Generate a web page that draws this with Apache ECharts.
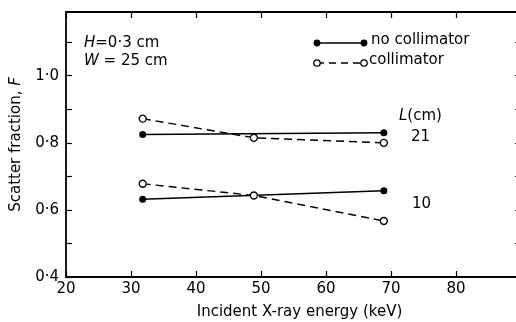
<!DOCTYPE html>
<html>
<head>
<meta charset="utf-8">
<script src="https://cdn.jsdelivr.net/npm/echarts@6/dist/echarts.min.js"></script>
<style>
  html, body { margin: 0; padding: 0; background: #fff; }
  #main { width: 516px; height: 322px; }
</style>
</head>
<body>
<div id="main"></div>
<script>
// energies (keV)
var energy2 = [31.8, 68.9];
var energy3 = [31.8, 48.9, 68.9];
// scatter fraction F
var noColl21 = [0.825, 0.830];
var coll21 = [0.872, 0.815, 0.800];
var noColl10 = [0.632, 0.657];
var coll10 = [0.678, 0.643, 0.567];

var xTicks = [20, 30, 40, 50, 60, 70, 80];
var yLabels = [0.4, 0.6, 0.8, 1.0];

var FONT = 'DejaVu Sans';
var FS = 15;

function pairs(xs, ys) {
    var list = [];
    for (var i = 0; i < xs.length; i++) {
        list.push([xs[i], ys[i]]);
    }
    return list;
}

function fmtY(v) {
    for (var i = 0; i < yLabels.length; i++) {
        if (Math.abs(yLabels[i] - v) < 1e-6) {
            return v.toFixed(1).replace('.', '\u00b7');
        }
    }
    return '';
}

var solidStyle = { color: '#000', width: 1.6, type: 'solid' };
var dashStyle = { color: '#000', width: 1.4, type: [8, 5] };

function solidSeries(data) {
    return {
        type: 'line', data: data, symbol: 'circle', symbolSize: 7,
        itemStyle: { color: '#000', borderColor: '#000', borderWidth: 0 },
        lineStyle: solidStyle, silent: true, z: 3
    };
}
function dashSeries(data) {
    return {
        type: 'line', data: data, symbol: 'circle', symbolSize: 7,
        itemStyle: { color: '#fff', borderColor: '#000', borderWidth: 1.3 },
        lineStyle: dashStyle, silent: true, z: 4
    };
}

function richText(parts) {
    return {
        i: { fontFamily: FONT, fontSize: FS, fontStyle: 'italic', fill: '#000', color: '#000' },
        n: { fontFamily: FONT, fontSize: FS, fill: '#000', color: '#000' }
    };
}

var myChart = echarts.init(document.getElementById('main'), null, { renderer: 'canvas' });

var axisLine = { show: true, lineStyle: { color: '#000', width: 1.8 } };
var tick = { show: true, inside: true, length: 6, lineStyle: { color: '#000', width: 1.2 } };

var option = {
    backgroundColor: '#fff',
    animation: false,
    textStyle: { fontFamily: FONT, color: '#000' },
    grid: { left: 66, top: 12, width: 455, height: 265, containLabel: false, outerBoundsMode: 'none' },
    xAxis: [
        {
            type: 'value', min: 20, max: 90, interval: 10, position: 'bottom',
            axisLine: axisLine, axisTick: tick,
            axisLabel: {
                color: '#000', fontFamily: FONT, fontSize: FS, margin: 5,
                formatter: function (v) { return xTicks.indexOf(v) >= 0 ? String(v) : ''; }
            },
            splitLine: { show: false },
            name: 'Incident X-ray energy (keV)', nameLocation: 'middle', nameGap: 28,
            nameTextStyle: { color: '#000', fontFamily: FONT, fontSize: FS, padding: [0, 0, 0, 12] }
        },
        {
            type: 'value', min: 20, max: 90, interval: 10, position: 'top',
            axisLine: axisLine, axisTick: tick,
            axisLabel: { show: false },
            splitLine: { show: false }
        }
    ],
    yAxis: [
        {
            type: 'value', min: 0.4, max: 1.19, interval: 0.1, position: 'left',
            axisLine: axisLine, axisTick: tick,
            axisLabel: {
                color: '#000', fontFamily: FONT, fontSize: FS, margin: 7,
                showMaxLabel: false, formatter: fmtY
            },
            splitLine: { show: false },
            name: '{n|Scatter fraction, }{i|F}', nameLocation: 'middle', nameGap: 42, nameRotate: 90,
            nameTextStyle: { rich: richText() }
        },
        {
            type: 'value', min: 0.4, max: 1.19, interval: 0.1, position: 'right',
            axisLine: axisLine, axisTick: tick,
            axisLabel: { show: false },
            splitLine: { show: false }
        }
    ],
    series: [
        solidSeries(pairs(energy2, noColl21)),
        dashSeries(pairs(energy3, coll21)),
        solidSeries(pairs(energy2, noColl10)),
        dashSeries(pairs(energy3, coll10))
    ],
    graphic: [
        // parameters
        { type: 'text', left: 84, top: 36, style: { text: '{i|H}{n|=0\u00b73 cm}', rich: richText() } },
        { type: 'text', left: 84, top: 54, style: { text: '{i|W}{n| = 25 cm}', rich: richText() } },
        // legend
        { type: 'line', shape: { x1: 317, y1: 43, x2: 364, y2: 43 }, style: { stroke: '#000', lineWidth: 1.6 } },
        { type: 'circle', shape: { cx: 317, cy: 43, r: 3.4 }, style: { fill: '#000' } },
        { type: 'circle', shape: { cx: 364, cy: 43, r: 3.4 }, style: { fill: '#000' } },
        { type: 'text', left: 371, top: 33, style: { text: 'no collimator', font: FS + 'px "DejaVu Sans"', fill: '#000' } },
        { type: 'line', shape: { x1: 317, y1: 63, x2: 364, y2: 63 }, style: { stroke: '#000', lineWidth: 1.4, lineDash: [7, 5] } },
        { type: 'circle', shape: { cx: 317, cy: 63, r: 3.2 }, style: { fill: '#fff', stroke: '#000', lineWidth: 1.3 }, z: 10 },
        { type: 'circle', shape: { cx: 364, cy: 63, r: 3.2 }, style: { fill: '#fff', stroke: '#000', lineWidth: 1.3 }, z: 10 },
        { type: 'text', left: 369, top: 53, style: { text: 'collimator', font: FS + 'px "DejaVu Sans"', fill: '#000' } },
        // L labels
        { type: 'text', left: 399, top: 109, style: { text: '{i|L}{n|(cm)}', rich: richText() } },
        { type: 'text', left: 411, top: 130, style: { text: '21', font: FS + 'px "DejaVu Sans"', fill: '#000' } },
        { type: 'text', left: 412, top: 197, style: { text: '10', font: FS + 'px "DejaVu Sans"', fill: '#000' } }
    ]
};

myChart.setOption(option, true);
</script>
</body>
</html>
